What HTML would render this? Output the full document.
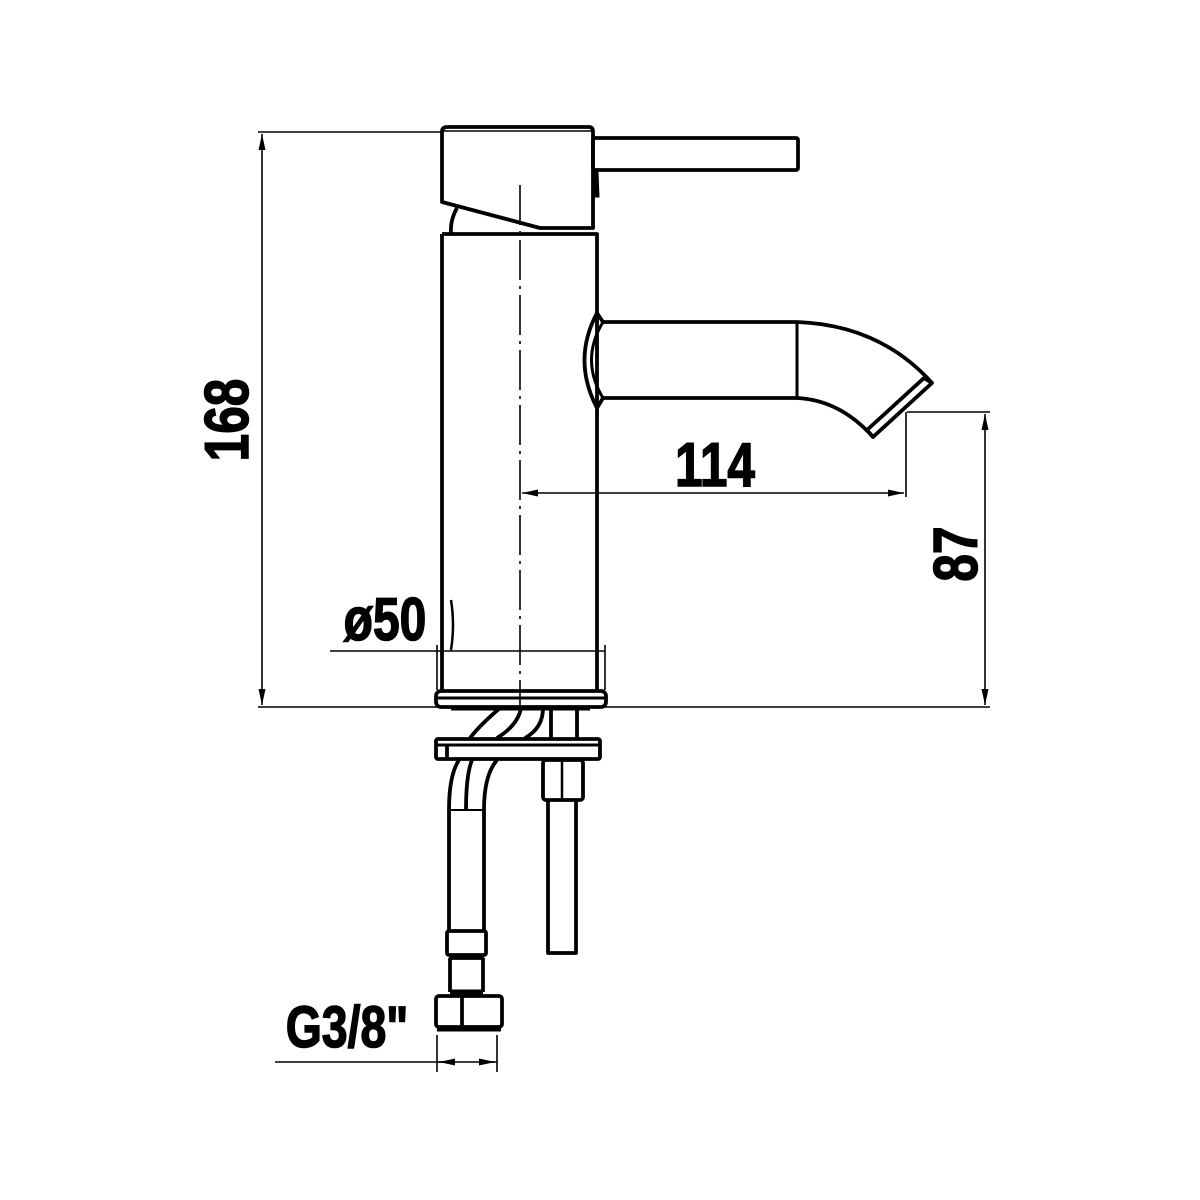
<!DOCTYPE html>
<html><head><meta charset="utf-8"><style>
html,body{margin:0;padding:0;background:#fff;}
svg{display:block}
text{font-family:"Liberation Sans",Arial,sans-serif;font-weight:bold;fill:#000;stroke:#000;stroke-width:1.5}
</style></head><body>
<svg width="1200" height="1200" viewBox="0 0 1200 1200" xmlns="http://www.w3.org/2000/svg">
<defs>
<marker id="a" markerWidth="16" markerHeight="7" refX="16" refY="3.5" orient="auto-start-reverse" markerUnits="userSpaceOnUse"><path d="M0,0 L16,3.5 L0,7 Z" fill="#000"/></marker>
</defs>
<g fill="none" stroke="#000" stroke-linejoin="round">
<g stroke-width="1.6">
<line x1="258" y1="132" x2="442" y2="132"/>
<line x1="258" y1="707" x2="990" y2="707"/>
<line x1="262" y1="134" x2="262" y2="705" marker-start="url(#a)" marker-end="url(#a)"/>
<line x1="907" y1="412" x2="990" y2="412"/>
<line x1="985" y1="414" x2="985" y2="705" marker-start="url(#a)" marker-end="url(#a)"/>
<line x1="906" y1="412" x2="906" y2="497"/>
<line x1="522" y1="493" x2="904" y2="493" marker-start="url(#a)" marker-end="url(#a)"/>
<line x1="330" y1="651" x2="605" y2="651"/>
<line x1="437" y1="645" x2="437" y2="690"/>
<line x1="605" y1="645" x2="605" y2="690"/>
<line x1="275" y1="1062" x2="497" y2="1062"/>
<line x1="437" y1="1035" x2="437" y2="1072"/>
<line x1="497" y1="1035" x2="497" y2="1072"/>
<line x1="455" y1="1062" x2="439" y2="1062" marker-end="url(#a)"/>
<line x1="480" y1="1062" x2="495" y2="1062" marker-end="url(#a)"/>
<line x1="520" y1="185" x2="520" y2="715" stroke-dasharray="40,6,3,6"/>
</g>
<g stroke-width="3.8">
<path d="M442,202 L442,132 Q442,127 447,127 L589,127 Q593,127 593,132 L593,228 L540,228 Z"/>
<line x1="444" y1="131" x2="591" y2="131" stroke-width="1.5"/>
<rect x="593" y="138" width="205" height="32" rx="2"/>
<path d="M457,208 Q450,220 451,234"/>
<path d="M442,234 L597,234 L597,690 M442,234 L442,690"/>
<path d="M597,313 Q572,360 597,408"/>
<path d="M603,322 Q580,360 603,398" stroke-width="3"/>
<path d="M597,313 L603,322 M597,408 L603,398"/>
<line x1="603" y1="322" x2="797" y2="322"/>
<line x1="603" y1="398" x2="797" y2="398"/>
<line x1="797" y1="322" x2="797" y2="398" stroke-width="3"/>
<path d="M797,322 Q880,325 932,383"/>
<path d="M797,398 Q840,400 873,437"/>
<path d="M932,383 L924,378 L867,430 L873,437 Z"/>
<path d="M451,600 Q455,625 451,650" stroke-width="2.5"/>
<rect x="436" y="691" width="170" height="16" rx="5"/>
<line x1="436" y1="698" x2="606" y2="698" stroke-width="3"/>
<line x1="451" y1="709" x2="590" y2="709" stroke-width="3"/>
<path d="M500,708 Q480,725 470,738"/>
<path d="M521,708 Q518,725 497,738"/>
<path d="M543,708 Q543,728 525,738"/>
<line x1="551" y1="708" x2="551" y2="738"/>
<line x1="577" y1="708" x2="577" y2="738"/>
<rect x="436" y="739" width="164" height="20" rx="2"/>
<line x1="436" y1="745" x2="600" y2="745" stroke-width="3"/>
<line x1="447" y1="745" x2="447" y2="759"/>
<path d="M459,760 Q449,775 449,810 L449,930"/>
<path d="M472,760 Q466,775 466,810"/>
<path d="M497,760 Q484,775 484,810 L484,930"/>
<line x1="449" y1="810" x2="484" y2="810" stroke-width="2"/>
<rect x="447" y="931" width="39" height="24" rx="2"/>
<line x1="449" y1="958" x2="484" y2="958"/>
<path d="M450,958 L450,992 M483,958 L483,992"/>
<line x1="450" y1="992" x2="483" y2="992" stroke-width="5"/>
<rect x="436" y="996" width="66" height="31" rx="3"/>
<line x1="462" y1="996" x2="462" y2="1027"/>
<line x1="437" y1="1030" x2="501" y2="1030" stroke-width="3"/>
<rect x="543" y="760" width="40" height="40" rx="3"/>
<line x1="562" y1="760" x2="562" y2="800" stroke-width="2.5"/>
<path d="M548,800 L548,953 L576,953 L576,800"/>
</g>
<path d="M593,172 L598,172 L599,197 L593,197 Z" fill="#000"/>
</g>
<text transform="translate(248,420) rotate(-90) scale(0.8,1)" font-size="62" text-anchor="middle">168</text>
<text transform="translate(977,554) rotate(-90) scale(0.8,1)" font-size="62" text-anchor="middle">87</text>
<text transform="translate(715,486) scale(0.8,1)" font-size="62" text-anchor="middle">114</text>
<text transform="translate(385,640) scale(0.8,1)" font-size="60" text-anchor="middle">ø50</text>
<text transform="translate(347,1047) scale(0.8,1)" font-size="58" text-anchor="middle">G3/8"</text>
</svg>
</body></html>
